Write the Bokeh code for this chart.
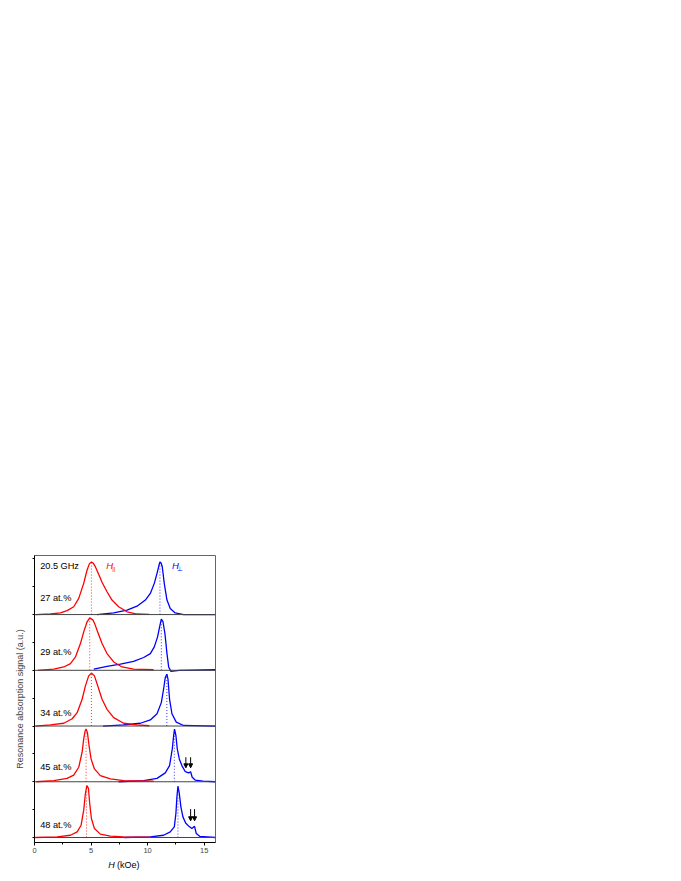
import numpy as np
from bokeh.plotting import figure
from bokeh.layouts import column
from bokeh.models import Range1d, FixedTicker, Label, Arrow, NormalHead, Span
from bokeh.core.properties import value
from bokeh.embed import file_html
from bokeh.resources import INLINE

# ---------------- data ----------------
frequency_label = "20.5 GHz"
compositions = ["27 at.%", "29 at.%", "34 at.%", "45 at.%", "48 at.%"]

red_h_27 = [0.09, 1.41, 2.29, 2.88, 3.47, 3.91, 4.35, 4.65, 4.85, 5.03, 5.2, 5.38, 5.68, 5.97, 6.41, 6.85, 7.44, 8.18, 9.06, 10.15]
red_s_27 = [0.0, 0.01, 0.03, 0.07, 0.14, 0.29, 0.56, 0.80, 0.91, 0.945, 0.92, 0.86, 0.72, 0.58, 0.41, 0.26, 0.14, 0.05, 0.01, 0.005]
blue_h_27 = [5.53, 7.0, 8.18, 9.06, 9.8, 10.24, 10.59, 10.83, 11.0, 11.09, 11.2, 11.3, 11.47, 11.71, 12.0, 12.44, 13.18, 14.4, 15.97]
blue_s_27 = [0.0, 0.03, 0.08, 0.15, 0.26, 0.38, 0.56, 0.74, 0.88, 0.945, 0.92, 0.85, 0.56, 0.26, 0.11, 0.03, 0.0, 0.0, 0.0]

red_h_29 = [0.29, 1.71, 2.59, 3.18, 3.62, 4.06, 4.35, 4.65, 4.88, 5.18, 5.35, 5.53, 5.97, 6.41, 7.0, 7.74, 8.76, 10.53]
red_s_29 = [0.0, 0.02, 0.06, 0.12, 0.24, 0.48, 0.69, 0.87, 0.94, 0.90, 0.82, 0.72, 0.48, 0.30, 0.15, 0.06, 0.02, 0.01]
blue_h_29 = [5.24, 6.41, 7.59, 8.76, 9.65, 10.24, 10.59, 10.88, 11.06, 11.21, 11.35, 11.53, 11.71, 11.86, 12.06, 12.8, 15.97]
blue_s_29 = [0.02, 0.07, 0.11, 0.16, 0.23, 0.30, 0.42, 0.60, 0.78, 0.92, 0.88, 0.66, 0.30, 0.06, -0.02, 0.0, 0.01]

red_h_34 = [0.09, 1.41, 2.59, 3.33, 3.77, 4.21, 4.5, 4.79, 5.03, 5.3, 5.59, 5.97, 6.41, 7.0, 7.88, 9.06, 10.15]
red_s_34 = [0.0, 0.02, 0.05, 0.13, 0.24, 0.48, 0.72, 0.90, 0.95, 0.90, 0.72, 0.48, 0.30, 0.15, 0.05, 0.02, 0.005]
blue_h_34 = [6.06, 7.88, 9.36, 10.24, 10.83, 11.21, 11.41, 11.56, 11.7, 11.8, 11.94, 12.15, 12.53, 13.18, 15.97]
blue_s_34 = [0.0, 0.02, 0.05, 0.11, 0.22, 0.42, 0.66, 0.87, 0.93, 0.84, 0.48, 0.22, 0.07, 0.01, 0.0]

red_h_45 = [0.15, 1.71, 2.88, 3.47, 3.91, 4.21, 4.35, 4.47, 4.56, 4.68, 4.82, 5.0, 5.3, 5.82, 6.71, 7.88, 10.53]
red_s_45 = [0.0, 0.02, 0.06, 0.12, 0.26, 0.53, 0.77, 0.91, 0.945, 0.88, 0.65, 0.41, 0.23, 0.11, 0.05, 0.02, 0.01]
blue_h_45 = [7.44, 9.65, 10.83, 11.56, 11.94, 12.18, 12.3, 12.38, 12.5, 12.62, 12.8, 13.03, 13.33, 13.62, 13.8, 13.94, 14.2, 14.9, 15.97]
blue_s_45 = [0.0, 0.02, 0.06, 0.16, 0.29, 0.59, 0.83, 0.945, 0.83, 0.59, 0.41, 0.29, 0.18, 0.16, 0.18, 0.08, 0.03, 0.01, 0.0]

red_h_48 = [0.09, 2.0, 3.18, 3.77, 4.12, 4.35, 4.5, 4.63, 4.77, 4.88, 5.03, 5.3, 5.82, 6.7, 7.88, 10.24]
red_s_48 = [0.0, 0.01, 0.04, 0.10, 0.22, 0.49, 0.79, 0.93, 0.88, 0.61, 0.34, 0.16, 0.06, 0.025, 0.01, 0.005]
blue_h_48 = [7.94, 10.24, 11.41, 12.0, 12.36, 12.5, 12.59, 12.68, 12.8, 12.94, 13.12, 13.36, 13.65, 13.91, 14.15, 14.3, 14.6, 15.97]
blue_s_48 = [0.0, 0.01, 0.04, 0.10, 0.19, 0.43, 0.73, 0.92, 0.79, 0.55, 0.37, 0.26, 0.20, 0.16, 0.20, 0.07, 0.02, 0.0]

peak_par = [5.03, 4.88, 5.03, 4.56, 4.6]
peak_par_height = [0.945, 0.94, 0.95, 0.945, 0.93]
peak_perp = [11.09, 11.21, 11.7, 12.36, 12.68]
peak_perp_height = [0.945, 0.92, 0.93, 0.945, 0.92]

arrow_h_45 = [13.38, 13.8]
arrow_h_48 = [13.8, 14.15]

x_ticks = [0, 5, 10, 15]
x_minor_ticks = [2.5, 7.5, 12.5]

# ---------------- layout ----------------
RED = "#ff0000"
BLUE = "#0000ff"
FONT = "Liberation Sans"
offsets = [4, 3, 2, 1, 0]
label_dy = [0.29, 0.32, 0.24, 0.27, 0.22]

red_h = [red_h_27, red_h_29, red_h_34, red_h_45, red_h_48]
red_s = [red_s_27, red_s_29, red_s_34, red_s_45, red_s_48]
blue_h = [blue_h_27, blue_h_29, blue_h_34, blue_h_45, blue_h_48]
blue_s = [blue_s_27, blue_s_29, blue_s_34, blue_s_45, blue_s_48]

W = 672
p = figure(width=W, height=858, x_range=Range1d(0, 16), y_range=Range1d(-0.09, 5.06),
           output_backend="svg", toolbar_location=None,
           min_border_left=34, min_border_right=W - 34 - 181, min_border_top=555, min_border_bottom=16)
p.grid.visible = False
p.outline_line_color = "#666666"
p.outline_line_width = 1
p.background_fill_color = "white"
p.border_fill_color = "white"

xa = p.xaxis[0]
xa.ticker = FixedTicker(ticks=x_ticks, minor_ticks=x_minor_ticks)
xa.major_tick_out = 3
xa.major_tick_in = 0
xa.minor_tick_out = 2
xa.minor_tick_in = 0
xa.major_label_text_font_size = "7.5px"
xa.major_label_text_font = FONT
xa.major_label_standoff = 2
xa.axis_line_color = "black"

ya = p.yaxis[0]
ya.ticker = FixedTicker(ticks=[], minor_ticks=[i * 0.5 for i in range(11)])
ya.minor_tick_out = 2
ya.minor_tick_in = 0
ya.minor_tick_line_color = "black"
ya.major_label_standoff = 0
ya.axis_line_color = "black"
ya.axis_label = "Resonance absorption signal (a.u.)"
ya.axis_label_text_font = FONT
ya.axis_label_text_font_size = "9px"
ya.axis_label_text_font_style = "normal"
ya.axis_label_standoff = 8

for off in offsets:
    p.add_layout(Span(location=off, dimension="width", line_color="#444444", line_width=1))

for i, off in enumerate(offsets):
    p.segment(x0=[peak_par[i]], y0=[off], x1=[peak_par[i]], y1=[off + peak_par_height[i]],
              line_color=RED, line_width=0.8, line_dash="1 2")
    p.segment(x0=[peak_perp[i]], y0=[off], x1=[peak_perp[i]], y1=[off + peak_perp_height[i]],
              line_color=BLUE, line_width=0.8, line_dash="1 2")
    p.line(blue_h[i], np.array(blue_s[i]) + off, line_color=BLUE, line_width=1.3)
    p.line(red_h[i], np.array(red_s[i]) + off, line_color=RED, line_width=1.3)
    p.add_layout(Label(x=0.5, y=off + label_dy[i], text=compositions[i], text_font=FONT,
                       text_font_size="9.2px", text_align="left", text_baseline="middle",
                       text_color="black"))

for h in arrow_h_45:
    p.add_layout(Arrow(end=NormalHead(size=4, fill_color="black", line_color="black"),
                       x_start=h, y_start=1 + 0.44, x_end=h, y_end=1 + 0.25,
                       line_color="black", line_width=1))
for h in arrow_h_48:
    p.add_layout(Arrow(end=NormalHead(size=4, fill_color="black", line_color="black"),
                       x_start=h, y_start=0 + 0.51, x_end=h, y_end=0 + 0.30,
                       line_color="black", line_width=1))

p.add_layout(Label(x=0.5, y=4.87, text=frequency_label, text_font=FONT, text_font_size="9.2px",
                   text_align="left", text_baseline="middle", text_color="black"))

# H parallel / H perpendicular
p.add_layout(Label(x=6.35, y=4.88, text="H", text_font=FONT, text_font_style="italic",
                   text_font_size="9.5px", text_align="left", text_baseline="middle", text_color=RED))
p.add_layout(Label(x=7.0, y=4.81, text="||", text_font=FONT, text_font_size="6px",
                   text_align="center", text_baseline="middle", text_color=RED))
p.add_layout(Label(x=12.15, y=4.88, text="H", text_font=FONT, text_font_style="italic",
                   text_font_size="9.5px", text_align="left", text_baseline="middle", text_color=BLUE))
p.add_layout(Label(x=12.84, y=4.81, text="\u22a5", text_font="DejaVu Sans", text_font_size="6.5px",
                   text_align="center", text_baseline="middle", text_color=BLUE))

# x-axis title strip (italic H + unit)
p2 = figure(width=W, height=20, x_range=p.x_range, y_range=Range1d(0, 20),
            output_backend="svg", toolbar_location=None,
            x_axis_location=None, y_axis_location=None,
            min_border_left=34, min_border_right=W - 34 - 181, min_border_top=0, min_border_bottom=0)
p2.grid.visible = False
p2.outline_line_color = None
p2.text(x=[6.53], y=[14], text=["H"], text_font=value(FONT), text_font_style="italic",
        text_font_size="9px", text_align="left", text_baseline="middle", text_color="black")
p2.text(x=[7.3], y=[14], text=["(kOe)"], text_font=value(FONT),
        text_font_size="9px", text_align="left", text_baseline="middle", text_color="black")

layout = column(p, p2, spacing=0)
open("out.html", "w").write(file_html(layout, INLINE))
